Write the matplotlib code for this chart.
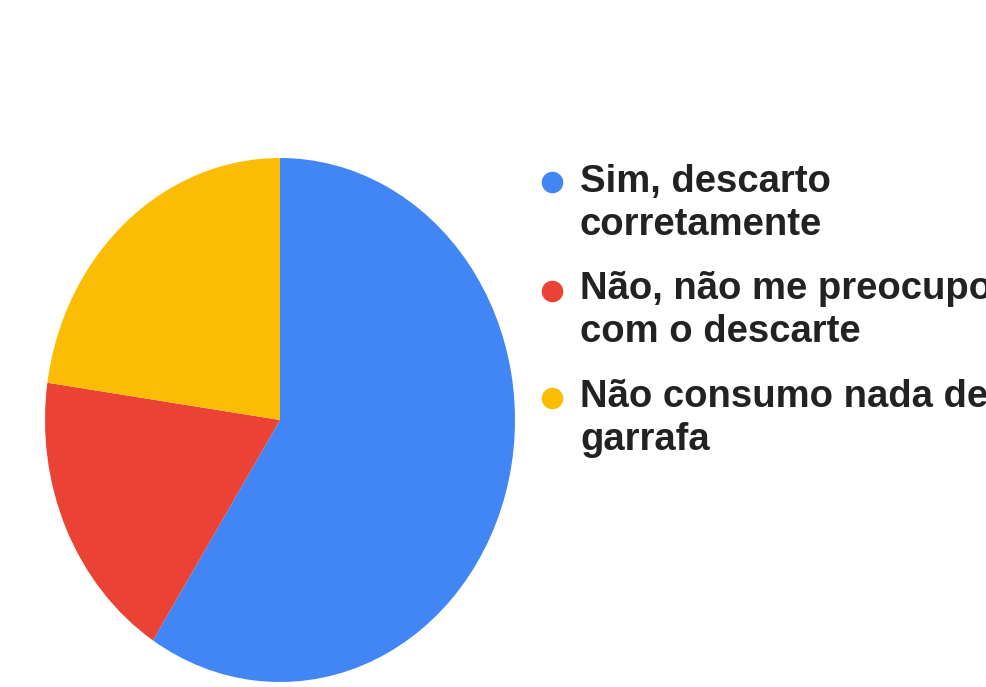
import matplotlib
matplotlib.use("Agg")
import matplotlib.pyplot as plt
from matplotlib.lines import Line2D

labels = ["Sim, descarto\ncorretamente",
          "Não, não me preocupo\ncom o descarte",
          "Não consumo nada de\ngarrafa"]
values = [26, 8, 10]
colors = ["#4285F4", "#EA4335", "#FBBC04"]

W, H = 987, 687
fig = plt.figure(figsize=(W / 100, H / 100), dpi=100)
fig.patch.set_facecolor("white")

# pie axes (elliptical as in reference)
cx, cy, rx, ry = 280, 420, 235, 262
ax = fig.add_axes([(cx - rx) / W, (H - cy - ry) / H, 2 * rx / W, 2 * ry / H])
ax.pie(values, colors=colors, startangle=90, counterclock=False, radius=1,
       wedgeprops=dict(linewidth=0))
ax.set_aspect("auto")
ax.set_xlim(-1, 1)
ax.set_ylim(-1, 1)
ax.axis("off")

# legend drawn manually
dot_ys = [182, 291, 398]
base_ys = [192, 299, 407]
for lab, col, yd, yb in zip(labels, colors, dot_ys, base_ys):
    fig.add_artist(Line2D([552 / W], [1 - yd / H], marker="o", markersize=14.5,
                          color=col, linestyle="none", transform=fig.transFigure))
    for i, line in enumerate(lab.split("\n")):
        fig.text(580 / W, 1 - (yb + 43 * i) / H, line, ha="left", va="baseline",
                 fontsize=27.5, fontweight="bold", color="#222222",
                 family=["Liberation Sans", "DejaVu Sans"])

fig.savefig("out.png", dpi=100, facecolor="white")
